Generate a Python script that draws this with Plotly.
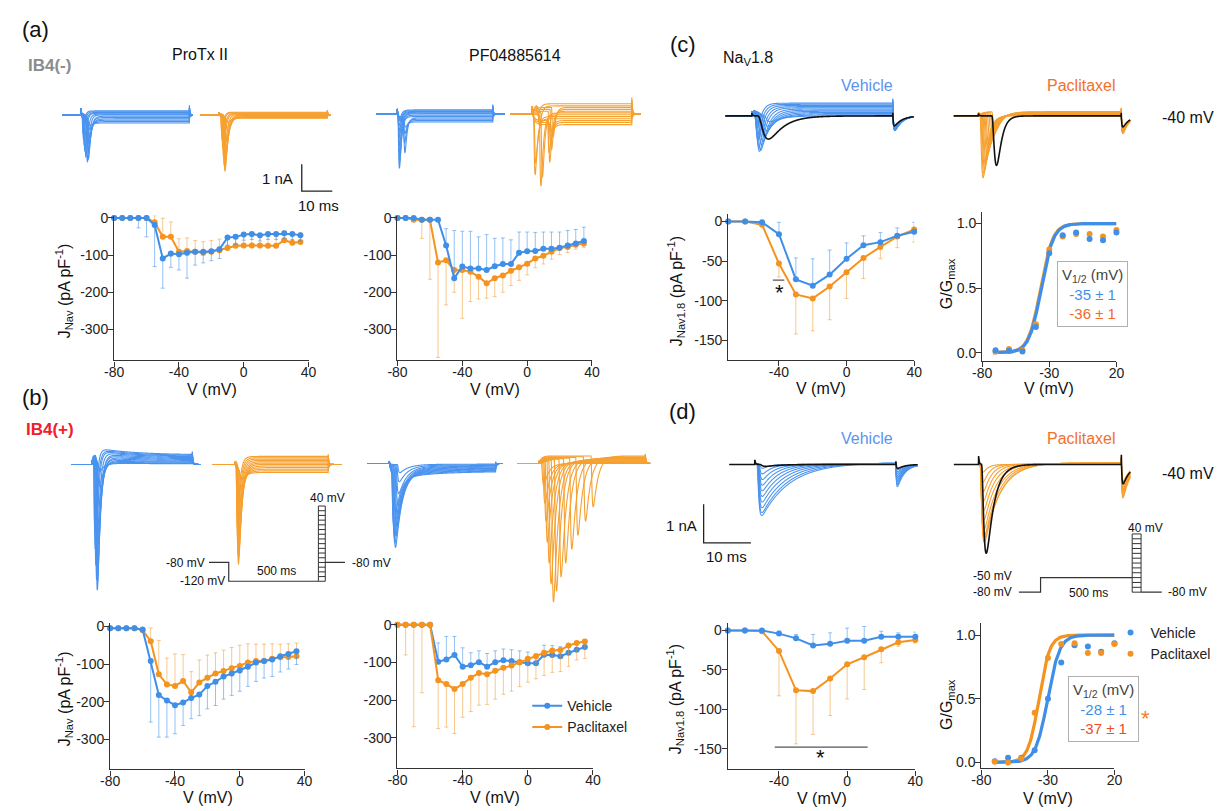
import numpy as np
import plotly.graph_objects as go

W, H = 1220, 811
FONT = "Liberation Sans, Arial, Helvetica, sans-serif"
BLUE = "#3f8fe9"
ORANGE = "#f4931f"
BLUE_T = "#4a93ef"
ORANGE_T = "#f6a030"
BLUE_ERR = "rgba(63,143,233,0.55)"
ORANGE_ERR = "rgba(244,147,31,0.5)"
AXC = "#333333"

# ---------------- data: current-voltage relations ----------------
V_ab = [-80, -75, -70, -65, -60, -55, -50, -45, -40, -35, -30, -25,
        -20, -15, -10, -5, 0, 5, 10, 15, 20, 25, 30, 35]
ab_yticks = [0, -100, -200, -300]
ab_xticks = [-80, -40, 0, 40]

# (a) IB4(-), ProTx II
a1_veh = [0, 0, 0, 0, 0, -19, -109, -96, -98, -94, -91, -91, -90, -84, -53, -51, -45, -43, -47, -43, -43, -41, -43, -47]
a1_veh_err = [0, 0, 0, 27, 51, 112, 80, 37, 42, 68, 36, 30, 25, 25, 20, 20, 15, 15, 15, 15, 15, 15, 15, 15]
a1_pac = [0, 0, 0, 0, 0, -12, -51, -51, -91, -89, -91, -94, -91, -87, -81, -75, -74, -74, -74, -75, -75, -60, -67, -65]
a1_pac_err = [0, 0, 0, 0, 0, 18, 50, 40, 35, 35, 30, 30, 30, 30, 30, 30, 30, 25, 25, 25, 25, 25, 25, 25]
# (a) IB4(-), PF04885614
a2_veh = [0, 0, 0, -5, -5, -5, -74, -162, -131, -136, -136, -140, -130, -124, -124, -94, -90, -89, -83, -83, -80, -74, -69, -62]
a2_veh_err = [0, 0, 0, 0, 0, 0, 45, 128, 95, 100, 85, 95, 75, 70, 65, 56, 52, 50, 45, 45, 42, 40, 38, 37]
a2_pac = [0, 0, -5, -5, -5, -120, -114, -140, -140, -145, -158, -176, -162, -155, -142, -133, -123, -109, -102, -91, -81, -78, -72, -69]
a2_pac_err = [0, 0, 0, 50, 160, 255, 120, 60, 130, 80, 60, 40, 50, 45, 40, 35, 30, 25, 22, 20, 18, 15, 12, 10]
# (b) IB4(+), ProTx II
b1_veh = [-5, -5, -5, -5, -8, -92, -182, -197, -209, -202, -190, -181, -158, -147, -133, -125, -117, -107, -96, -92, -88, -79, -73, -66]
b1_veh_err = [0, 0, 0, 0, 5, 162, 112, 97, 76, 61, 55, 56, 61, 63, 60, 58, 55, 52, 50, 45, 45, 42, 40, 35]
b1_pac = [-5, -5, -5, -5, -10, -39, -127, -154, -158, -145, -175, -149, -136, -125, -118, -111, -105, -96, -92, -92, -86, -82, -81, -79]
b1_pac_err = [0, 0, 0, 0, 0, 35, 90, 70, 85, 70, 55, 60, 60, 55, 55, 55, 55, 50, 45, 45, 40, 35, 35, 35]
# (b) IB4(+), PF04885614
b2_veh = [0, 0, 0, 0, 0, -98, -92, -80, -111, -107, -99, -111, -99, -94, -96, -99, -102, -102, -79, -80, -83, -74, -66, -59]
b2_veh_err = [0, 0, 0, 0, 0, 50, 61, 49, 50, 33, 30, 35, 30, 30, 30, 30, 30, 25, 25, 25, 25, 20, 20, 20]
b2_pac = [0, 0, 0, 0, 0, -147, -157, -170, -157, -140, -128, -131, -122, -114, -108, -99, -90, -83, -74, -68, -67, -55, -48, -44]
b2_pac_err = [0, 80, 270, 180, 0, 128, 114, 118, 88, 90, 85, 80, 75, 70, 68, 65, 62, 60, 60, 58, 57, 55, 45, 45]

# (c), (d) Nav1.8
V_cd = [-70, -60, -50, -40, -30, -20, -10, 0, 10, 20, 30, 40]
cd_yticks = [0, -50, -100, -150]
cd_xticks = [-40, 0, 40]
c_veh = [0, 0, -1, -16, -73, -81, -67, -47, -30, -26, -18, -13]
c_veh_err = [0, 0, 0, 15, 27, 34, 31, 20, 12, 12, 10, 12]
c_pac = [0, 0, -4, -53, -92, -97, -82, -64, -46, -32, -19, -10]
c_pac_err = [0, 0, 0, 17, 50, 41, 42, 33, 26, 15, 14, 16]
d_veh = [0, 0, 0, -4, -10, -19, -17, -13, -13, -8, -8, -8]
d_veh_err = [0, 0, 0, 3, 5, 14, 14, 16, 18, 7, 5, 6]
d_pac = [0, 0, -1, -26, -76, -77, -61, -43, -34, -24, -15, -12]
d_pac_err = [0, 0, 0, 57, 68, 55, 47, 44, 41, 17, 5, 4]

# conductance-voltage
V_g = [-70, -60, -50, -40, -30, -20, -10, 0, 10, 20]
g_xticks = [-80, -30, 20]
g_yticks = [0.0, 0.5, 1.0]
gc_veh = [0.02, 0.015, 0.01, 0.2, 0.77, 0.91, 0.93, 0.88, 0.87, 0.93]
gc_pac = [0.01, 0.03, 0.02, 0.22, 0.80, 0.90, 0.92, 0.92, 0.90, 0.95]
gd_veh = [0.01, 0.036, 0.036, 0.095, 0.50, 0.785, 0.92, 0.91, 0.87, 0.935]
gd_pac = [0.005, 0.0, 0.03, 0.39, 0.82, 0.93, 0.935, 0.86, 0.86, 0.93]
# Boltzmann fit curves as drawn: (V1/2, slope)
fit_c = {"veh": (-36.0, 4.5), "pac": (-36.5, 4.5)}
fit_d = {"veh": (-30.2, 4.5), "pac": (-36.8, 4.0)}
vhalf_c = ["-35 ± 1", "-36 ± 1"]
vhalf_d = ["-28 ± 1", "-37 ± 1"]
# significance bars: (V from, V to, J, star V, star J)
sig_c = (-43.6, -36.8, -74, -39.7, -89)
sig_d = (-42.5, 12.0, -148, -15.6, -161)

# ---------------- data: example current sweeps (nA, ms) ----------------
A1_veh_amp = [-0.1, -0.3, -0.6, -0.95, -1.3, -1.6, -1.75, -1.6, -1.4, -1.2, -1.0, -0.8]
A1_veh_lag = [2.4, 2.3, 2.2, 2.1, 2.0, 1.9, 1.6, 1.1, 0.8, 0.6, 0.4, 0.3]
A1_veh_dec = [0.9, 0.9, 0.8, 0.8, 0.7, 0.7, 0.6, 0.6, 0.5, 0.5, 0.45, 0.4]
A1_veh_plat = [-0.3, -0.25, -0.2, -0.15, -0.1, -0.05, 0.0, 0.03, 0.06, 0.09, 0.12, 0.15]
A1_pac_amp = [-0.15, -0.4, -0.8, -1.2, -1.6, -1.9, -2.1, -1.9, -1.6, -1.3, -1.0, -0.7]
A1_pac_lag = [2.2, 2.0, 1.9, 1.8, 1.6, 1.5, 1.4, 1.2, 1.0, 0.8, 0.6, 0.5]
A1_pac_dec = [1.2, 1.1, 1.0, 1.0, 0.9, 0.9, 0.8, 0.7, 0.6, 0.6, 0.5, 0.5]
A1_pac_plat = [-0.12, -0.1, -0.08, -0.06, -0.04, -0.02, 0.0, 0.02, 0.04, 0.06, 0.08, 0.1]

A2_veh_amp = [-0.2, -0.5, -0.9, -1.3, -1.7, -2.0, -1.5, -1.2, -0.9, -0.7, -0.5, -0.35]
A2_veh_lag = [2.2, 2.0, 1.9, 2.0, 0.3, 0.2, 0.3, 0.25, 0.2, 0.2, 0.15, 0.15]
A2_veh_dec = [0.6] * 12
A2_veh_plat = [-0.3, -0.25, -0.2, -0.15, -0.1, -0.05, 0.0, 0.03, 0.06, 0.09, 0.12, 0.15]
A2_pac_amp = [-0.3, -0.7, -1.2, -1.7, -2.2, -2.67, -2.4, -1.9, -1.5, -1.1, -0.7, -0.4]
A2_pac_lag = [6.0, 5.5, 5.0, 0.6, 0.4, 2.3, 2.8, 5.2, 5.8, 6.3, 1.8, 1.3]
A2_pac_dec = [0.7] * 12
A2_pac_plat = [-0.4, -0.32, -0.25, -0.18, -0.1, -0.03, 0.04, 0.1, 0.17, 0.24, 0.3, 0.38]

B1_veh_amp = [-0.3, -0.9, -1.6, -2.4, -3.2, -4.0, -4.7, -5.07, -4.7, -4.2, -3.6, -3.0]
B1_veh_lag = [1.9, 1.8, 1.7, 1.6, 1.5, 1.4, 1.3, 1.2, 1.0, 0.8, 0.6, 0.5]
B1_veh_dec = [1.4, 1.3, 1.2, 1.1, 1.0, 1.0, 0.9, 0.9, 0.8, 0.7, 0.7, 0.6]
B1_veh_plat = [0.05, 0.1, 0.15, 0.2, 0.26, 0.32, 0.38, 0.44, 0.5, 0.55, 0.6, 0.65]
B1_pac_amp = [-0.3, -0.7, -1.2, -1.8, -2.4, -3.0, -3.5, -3.8, -3.5, -3.1, -2.6, -2.1]
B1_pac_lag = [1.5, 1.4, 1.2, 1.0, 0.9, 0.8, 0.7, 0.6, 0.5, 0.45, 0.4, 0.35]
B1_pac_dec = [1.3, 1.25, 1.2, 1.15, 1.1, 1.05, 1.0, 0.95, 0.9, 0.85, 0.8, 0.75]
B1_pac_plat = [-0.3, -0.24, -0.18, -0.12, -0.06, 0.0, 0.05, 0.1, 0.15, 0.2, 0.25, 0.3]

B2_veh_amp = [-0.3, -0.6, -1.0, -1.35, -1.7, -2.05, -2.4, -2.8, -2.6, -2.35, -2.1, -1.8]
B2_veh_lag = [2.6, 2.4, 2.2, 2.0, 1.8, 1.6, 1.4, 1.2, 1.0, 0.9, 0.8, 0.7]
B2_veh_dec = [2.8, 2.7, 2.6, 2.5, 2.4, 2.3, 2.2, 2.1, 2.0, 1.9, 1.8, 1.7]
B2_veh_plat = [-0.05, -0.1, -0.15, -0.2, -0.25, -0.3, -0.35, -0.4, -0.45, -0.5, -0.55, -0.6]
B2_pac_amp = [-0.8, -1.5, -2.2, -3.0, -3.8, -4.6, -5.3, -4.9, -4.4, -3.9, -3.4, -2.9, -2.4, -1.9]
B2_pac_lag = [0.8, 1.2, 1.6, 2.0, 2.6, 3.2, 4.0, 5.0, 6.5, 8.0, 10.0, 12.0, 14.5, 17.0]
B2_pac_dec = [1.6] * 14
B2_pac_plat = [0.0, 0.02, 0.04, 0.06, 0.08, 0.1, 0.12, 0.14, 0.16, 0.18, 0.2, 0.22, 0.25, 0.28]

C_veh_amp = [-0.15, -0.3, -0.45, -0.6, -0.75, -0.9, -1.05, -1.1, -1.0, -0.85, -0.7, -0.55]
C_veh_lag = [2.6, 2.2, 1.9, 1.6, 1.3, 1.1, 0.9, 0.7, 0.6, 0.5, 0.45, 0.4]
C_veh_dec = [2.6, 2.4, 2.2, 2.0, 1.8, 1.6, 1.4, 1.2, 1.1, 1.0, 0.9, 0.8]
C_veh_plat = [0.0, 0.03, 0.06, 0.09, 0.12, 0.15, 0.18, 0.21, 0.24, 0.27, 0.3, 0.33]
C_veh_tail = [-0.45, -0.48, -0.5, -0.52, -0.55, -0.57, -0.6, -0.6, -0.6, -0.6, -0.6, -0.6]
C_veh_black = dict(amp=[-0.6], lag=[1.2], dec=[3.0], plat=[0.0], tail=[-0.35])
C_pac_amp = [-1.6, -1.5, -1.4, -1.3, -1.2, -1.1, -1.0, -0.9, -0.8, -0.7, -0.6, -0.5]
C_pac_lag = [0.3, 0.45, 0.6, 0.75, 0.9, 1.1, 1.3, 1.5, 1.8, 2.1, 2.4, 2.8]
C_pac_dec = [0.9, 0.95, 1.0, 1.05, 1.1, 1.15, 1.2, 1.25, 1.3, 1.35, 1.4, 1.45]
C_pac_plat = [0.0, 0.01, 0.02, 0.03, 0.04, 0.05, 0.06, 0.07, 0.08, 0.09, 0.1, 0.11]
C_pac_tail = [-0.5, -0.52, -0.54, -0.56, -0.58, -0.6, -0.62, -0.64, -0.66, -0.68, -0.7, -0.7]
C_pac_black = dict(amp=[-1.28], lag=[2.8], dec=[0.9], plat=[0.0], tail=[-0.4])

D_veh_amp = [-0.1, -0.25, -0.4, -0.55, -0.7, -0.85, -1.0, -1.15, -1.28, -1.36]
D_veh_lag = [0.9, 0.8, 0.75, 0.7, 0.65, 0.6, 0.55, 0.5, 0.45, 0.4]
D_veh_dec = [1.5, 2.0, 2.5, 3.0, 3.5, 4.0, 4.5, 5.0, 5.5, 6.0]
D_veh_plat = [0.0, 0.005, 0.01, 0.015, 0.02, 0.025, 0.03, 0.035, 0.04, 0.045]
D_veh_tail = [-0.2, -0.27, -0.33, -0.4, -0.47, -0.53, -0.6, -0.67, -0.73, -0.8]
D_veh_black = dict(amp=[-0.05], lag=[1.0], dec=[3.0], plat=[0.0], tail=[-0.15])
D_pac_amp = [-0.2, -0.45, -0.7, -0.95, -1.2, -1.45, -1.7, -1.9, -2.05, -1.95]
D_pac_lag = [0.3] * 10
D_pac_dec = [1.0, 1.3, 1.6, 1.9, 2.2, 2.5, 2.8, 3.0, 3.2, 3.4]
D_pac_plat = [0.0, 0.005, 0.01, 0.015, 0.02, 0.025, 0.03, 0.035, 0.04, 0.045]
D_pac_tail = [-0.6, -0.67, -0.73, -0.8, -0.87, -0.93, -1.0, -1.07, -1.13, -1.2]
D_pac_black = dict(amp=[-2.3], lag=[0.6], dec=[1.6], plat=[0.0], tail=[-0.7])

# voltage protocols (mV) and schematic segment lengths
proto_b_levels = (-80, -120, list(range(-120, 41, 10)))
proto_b_segs = (20, 91, 7, 20)
proto_d_levels = (-80, -50, list(range(-80, 41, 10)))
proto_d_segs = (22, 93, 9, 21)

# ---------------- helpers ----------------
fig = go.Figure()
axes_layout = {}
annotations = []
shapes = []
_n = [0]


def add_axes(x0, x1, ytop, ybot, xr, yr, show=False, xt=None, yt=None, yfmt=None):
    _n[0] += 1
    i = _n[0]
    xn = "xaxis" if i == 1 else f"xaxis{i}"
    yn = "yaxis" if i == 1 else f"yaxis{i}"
    xr_ = "x" if i == 1 else f"x{i}"
    yr_ = "y" if i == 1 else f"y{i}"
    common = dict(showgrid=False, zeroline=False, fixedrange=True)
    if show:
        st = dict(showline=True, linecolor=AXC, linewidth=1.3, ticks="outside", ticklen=5,
                  tickwidth=1.3, tickcolor=AXC, tickfont=dict(size=14, color="#222", family=FONT))
    else:
        st = dict(visible=False)
    xa = dict(domain=[x0 / W, x1 / W], range=xr, anchor=yr_, **common, **st)
    ya = dict(domain=[1 - ybot / H, 1 - ytop / H], range=yr, anchor=xr_, **common, **st)
    if show:
        xa["ticklabelstandoff"] = -6
        ya["ticklabelstandoff"] = -3
    if xt is not None:
        xa.update(tickmode="array", tickvals=xt, ticktext=[str(v) for v in xt])
    if yt is not None:
        fmt = yfmt or (lambda v: str(v))
        ya.update(tickmode="array", tickvals=yt, ticktext=[fmt(v) for v in yt])
    axes_layout[xn] = xa
    axes_layout[yn] = ya
    return xr_, yr_


def txt(x, y, s, size=16, color="#111", xanchor="center", angle=0, bold=False, **kw):
    if bold:
        s = f"<b>{s}</b>"
    annotations.append(dict(x=x / W, y=1 - y / H, xref="paper", yref="paper", text=s,
                            showarrow=False, xanchor=xanchor, yanchor="middle", textangle=angle,
                            font=dict(size=size, color=color, family=FONT), **kw))


def iv_series(ax, V, J, err, direction, color, ecolor, name=None, legend=None):
    up = err if direction == "up" else [0] * len(err)
    dn = err if direction == "down" else [0] * len(err)
    kw = {}
    if legend:
        kw["legend"] = legend
    fig.add_trace(go.Scatter(
        x=V, y=J, mode="lines+markers", line=dict(color=color, width=2),
        marker=dict(size=6, color=color),
        error_y=dict(type="data", symmetric=False, array=up, arrayminus=dn,
                     color=ecolor, thickness=1, width=2),
        xaxis=ax[0], yaxis=ax[1], cliponaxis=False, name=name or "",
        showlegend=name is not None, hoverinfo="skip", **kw))


def sweep_family(on, pre, dur, post, amp, lag, dec, plat, tail=None, rise=0.25,
                 ttail=1.0, cap=0.0, sag=0.0, dt=0.03):
    """Family of Na+ current sweeps: peak amplitude, latency, decay, steady level, tail per sweep."""
    t = np.arange(on - pre, on + dur + post + dt / 2, dt)
    s = t - on
    u = s - dur
    ss = np.clip(s, 0, None)
    uu = np.clip(u, 0, None)
    if tail is None:
        tail = [0.0] * len(amp)
    xs, ys = [], []
    for a, l, d, p, tl in zip(amp, lag, dec, plat, tail):
        sp = np.clip(s - l, 0, None)
        smax = rise * np.log(1 + 3 * d / rise)
        kmax = (1 - np.exp(-smax / rise)) ** 3 * np.exp(-smax / d)
        ina = a * (1 - np.exp(-sp / rise)) ** 3 * np.exp(-sp / d) / kmax
        ina = ina * np.exp(-uu / 0.1)
        pshape = p * (1 - np.exp(-ss / 0.8)) * (1 - sag * (1 - np.exp(-ss / 12)))
        pend = p * (1 - np.exp(-dur / 0.8)) * (1 - sag * (1 - np.exp(-dur / 12)))
        pl = np.where(s <= 0, 0, np.where(u <= 0, pshape, pend * np.exp(-uu / 0.3)))
        tl_ = np.where(u > 0, tl * (1 - np.exp(-uu / 0.12)) * np.exp(-uu / ttail), 0)
        cp = np.where(s > 0, cap * np.exp(-ss / 0.15), 0) + np.where(u > 0, cap * np.exp(-uu / 0.15), 0)
        y = ina + pl + tl_ + cp
        xs.extend(np.round(t, 3).tolist())
        xs.append(None)
        ys.extend(np.round(y, 4).tolist())
        ys.append(None)
    return xs, ys


def add_lines(ax, xs, ys, color, width=1.1):
    fig.add_trace(go.Scatter(x=xs, y=ys, mode="lines", line=dict(color=color, width=width, simplify=False),
                             hoverinfo="skip", showlegend=False, xaxis=ax[0], yaxis=ax[1]))


def trace_panel(l, r, t, b, t0px, i0px, pxms, pxna):
    xr = [(l - t0px) / pxms, (r - t0px) / pxms]
    yr = [(i0px - b) / pxna, (i0px - t) / pxna]
    return add_axes(l, r, t, b, xr, yr)


def glab(v):
    return f"{v:.1f}"


# ---------------- IV panels ----------------
axA1 = add_axes(105.7, 303, 211.7, 358, [-80, 40], [-383.3, 6.1], True, ab_xticks, ab_yticks)
axA2 = add_axes(393.3, 590.7, 211.7, 357.7, [-80, 40], [-382.5, 6.1], True, ab_xticks, ab_yticks)
axB1 = add_axes(101.7, 299, 623.3, 771, [-80, 40], [-379.7, 8.8], True, ab_xticks, ab_yticks)
axB2 = add_axes(393.3, 591.7, 622.7, 770, [-80, 40], [-380.6, 6.0], True, ab_xticks, ab_yticks)
axC = add_axes(729, 917.7, 210, 357.7, [-70, 40], [-175, 9.6], True, cd_xticks, cd_yticks)
axD = add_axes(728.6, 918.9, 623.3, 771, [-70, 40], [-176.4, 9.3], True, cd_xticks, cd_yticks)
axGC = add_axes(986.7, 1123, 208, 358.3, [-80, 20], [-0.062, 1.09], True, g_xticks, g_yticks, glab)
axGD = add_axes(986, 1121, 623, 770, [-80, 20], [-0.047, 1.096], True, g_xticks, g_yticks, glab)

iv_series(axA1, V_ab, a1_pac, a1_pac_err, "up", ORANGE, ORANGE_ERR)
iv_series(axA1, V_ab, a1_veh, a1_veh_err, "down", BLUE, BLUE_ERR)
iv_series(axA2, V_ab, a2_pac, a2_pac_err, "down", ORANGE, ORANGE_ERR)
iv_series(axA2, V_ab, a2_veh, a2_veh_err, "up", BLUE, BLUE_ERR)
iv_series(axB1, V_ab, b1_pac, b1_pac_err, "up", ORANGE, ORANGE_ERR)
iv_series(axB1, V_ab, b1_veh, b1_veh_err, "down", BLUE, BLUE_ERR)
iv_series(axB2, V_ab, b2_veh, b2_veh_err, "up", BLUE, BLUE_ERR, name="Vehicle", legend="legend")
iv_series(axB2, V_ab, b2_pac, b2_pac_err, "down", ORANGE, ORANGE_ERR, name="Paclitaxel", legend="legend")
iv_series(axC, V_cd, c_pac, c_pac_err, "down", ORANGE, ORANGE_ERR)
iv_series(axC, V_cd, c_veh, c_veh_err, "up", BLUE, BLUE_ERR)
iv_series(axD, V_cd, d_pac, d_pac_err, "down", ORANGE, ORANGE_ERR)
iv_series(axD, V_cd, d_veh, d_veh_err, "up", BLUE, BLUE_ERR)

for ax, sg in ((axC, sig_c), (axD, sig_d)):
    shapes.append(dict(type="line", xref=ax[0], yref=ax[1], x0=sg[0], x1=sg[1], y0=sg[2], y1=sg[2],
                       line=dict(color="#555", width=1.2)))
    annotations.append(dict(x=sg[3], y=sg[4], xref=ax[0], yref=ax[1], text="*", showarrow=False,
                            font=dict(size=22, color="#111", family=FONT), yanchor="middle"))

Vfit_c = np.linspace(-72, 20, 200)
Vfit_d = np.linspace(-70, 20, 200)
for ax, Vf, fits in ((axGC, Vfit_c, fit_c), (axGD, Vfit_d, fit_d)):
    for key, col in (("pac", ORANGE), ("veh", BLUE)):
        vh, k = fits[key]
        g = 1 / (1 + np.exp((vh - Vf) / k))
        fig.add_trace(go.Scatter(x=Vf, y=g, mode="lines", line=dict(color=col, width=3.2),
                                 hoverinfo="skip", showlegend=False, xaxis=ax[0], yaxis=ax[1]))
fig.add_trace(go.Scatter(x=V_g, y=gc_pac, mode="markers", marker=dict(size=6, color=ORANGE),
                         showlegend=False, xaxis=axGC[0], yaxis=axGC[1], cliponaxis=False, hoverinfo="skip"))
fig.add_trace(go.Scatter(x=V_g, y=gc_veh, mode="markers", marker=dict(size=6, color=BLUE),
                         showlegend=False, xaxis=axGC[0], yaxis=axGC[1], cliponaxis=False, hoverinfo="skip"))
fig.add_trace(go.Scatter(x=V_g, y=gd_veh, mode="markers", marker=dict(size=6, color=BLUE), name="Vehicle",
                         legend="legend2", xaxis=axGD[0], yaxis=axGD[1], cliponaxis=False, hoverinfo="skip"))
fig.add_trace(go.Scatter(x=V_g, y=gd_pac, mode="markers", marker=dict(size=6, color=ORANGE), name="Paclitaxel",
                         legend="legend2", xaxis=axGD[0], yaxis=axGD[1], cliponaxis=False, hoverinfo="skip"))

# ---------------- current sweeps ----------------
tA1 = trace_panel(40, 340, 88, 205, 72, 110, 3.1, 27)
add_lines(tA1, *sweep_family(0, 6.0, 35.5, 1.2, A1_veh_amp, A1_veh_lag, A1_veh_dec, A1_veh_plat, cap=0.25), BLUE_T)
add_lines(tA1, *sweep_family(45.16, 6.0, 35.5, 1.2, A1_pac_amp, A1_pac_lag, A1_pac_dec, A1_pac_plat, cap=0.1), ORANGE_T)
add_lines(tA1, [72.3, 72.3, 82.3], [-1.85, -2.85, -2.85], "#222", 1.3)   # 1 nA / 10 ms bar

tA2 = trace_panel(355, 655, 88, 205, 393, 109, 3.1, 27)
add_lines(tA2, *sweep_family(0, 6.8, 31.3, 3.9, A2_veh_amp, A2_veh_lag, A2_veh_dec, A2_veh_plat, cap=0.2), BLUE_T)
add_lines(tA2, *sweep_family(44.2, 7.1, 32.6, 2.9, A2_pac_amp, A2_pac_lag, A2_pac_dec, A2_pac_plat, cap=0.3), ORANGE_T)

tB1 = trace_panel(45, 345, 435, 612, 83, 463, 3.1, 27)
add_lines(tB1, *sweep_family(0, 6.8, 32.9, 2.6, B1_veh_amp, B1_veh_lag, B1_veh_dec, B1_veh_plat, sag=0.45, cap=0.15), BLUE_T)
add_lines(tB1, *sweep_family(46.8, 7.4, 30.6, 4.5, B1_pac_amp, B1_pac_lag, B1_pac_dec, B1_pac_plat, cap=0.1), ORANGE_T)

tB2 = trace_panel(350, 660, 435, 612, 385, 462, 3.1, 27)
add_lines(tB2, *sweep_family(0, 7.1, 34.8, 2.3, B2_veh_amp, B2_veh_lag, B2_veh_dec, B2_veh_plat, sag=0.5, cap=0.1), BLUE_T)
add_lines(tB2, *sweep_family(49.0, 7.1, 34.8, 1.6, B2_pac_amp, B2_pac_lag, B2_pac_dec, B2_pac_plat, cap=0.1), ORANGE_T)

tC = trace_panel(660, 1150, 60, 185, 753, 111, 4.8, 39)
add_lines(tC, *sweep_family(0, 5.6, 29.8, 4.4, C_veh_amp, C_veh_lag, C_veh_dec, C_veh_plat, C_veh_tail, rise=0.4, ttail=1.4, cap=0.12), BLUE_T)
add_lines(tC, *sweep_family(0, 5.6, 29.8, 4.4, rise=1.0, ttail=1.6, cap=0.08, **C_veh_black), "#111", 1.6)
add_lines(tC, *sweep_family(47.9, 5.2, 30.2, 1.9, C_pac_amp, C_pac_lag, C_pac_dec, C_pac_plat, C_pac_tail, rise=0.3, ttail=1.2, cap=0.1), ORANGE_T)
add_lines(tC, *sweep_family(47.9, 5.2, 30.2, 1.9, rise=0.6, ttail=1.4, cap=0.08, **C_pac_black), "#111", 1.6)

tD = trace_panel(660, 1150, 420, 570, 756, 463, 4.8, 39)
add_lines(tD, *sweep_family(0, 5.4, 29.8, 4.6, D_veh_amp, D_veh_lag, D_veh_dec, D_veh_plat, D_veh_tail, rise=0.25, ttail=1.5, cap=0.1), BLUE_T)
add_lines(tD, *sweep_family(0, 5.4, 29.8, 4.6, rise=0.4, ttail=1.5, cap=0.12, **D_veh_black), "#111", 1.6)
add_lines(tD, *sweep_family(47.3, 5.2, 30.2, 1.9, D_pac_amp, D_pac_lag, D_pac_dec, D_pac_plat, D_pac_tail, rise=0.25, ttail=1.5, cap=0.15), ORANGE_T)
add_lines(tD, *sweep_family(47.3, 5.2, 30.2, 1.9, rise=0.4, ttail=1.5, cap=0.25, **D_pac_black), "#111", 1.6)
add_lines(tD, [-10.83, -10.83, -0.83], [-1.03, -2.03, -2.03], "#222", 1.3)   # 1 nA / 10 ms bar


# ---------------- voltage protocols ----------------
def protocol(ax, levels, segs):
    hold, cond, ladder = levels
    s1, s2, s3, s4 = segs
    x_a = s1
    x_b = s1 + s2
    x_c = s1 + s2 + s3
    add_lines(ax, [0, x_a, x_a, x_b], [hold, hold, cond, cond], "#333", 1.2)
    xs, ys = [x_b, x_b, None, x_c, x_c, None], [min(ladder), max(ladder), None, min(ladder), max(ladder), None]
    for L in ladder:
        xs += [x_b, x_c, None]
        ys += [L, L, None]
    add_lines(ax, xs, ys, "#333", 1.0)
    add_lines(ax, [x_c, x_c + s4], [hold, hold], "#333", 1.2)


pB = add_axes(150, 400, 490, 600, [150 - 202, 400 - 202], [-120 - (600 - 581) / 0.475, -120 + (581 - 490) / 0.475])
protocol(pB, proto_b_levels, proto_b_segs)
pD = add_axes(1000, 1200, 515, 600, [1000 - 1024, 1200 - 1024], [-80 - (600 - 592) / 0.49, -80 + (592 - 515) / 0.49])
protocol(pD, proto_d_levels, proto_d_segs)

# ---------------- text ----------------
txt(26, 24, "(a)", size=22)
txt(40, 60, "IB4(-)", size=17, color="#8c8c8c", bold=True)
txt(193, 49, "ProTx II", size=16)
txt(513, 50, "PF04885614", size=16)
txt(26, 395, "(b)", size=22)
txt(41, 428, "IB4(+)", size=17, color="#f0202a", bold=True)
txt(683, 39, "(c)", size=22)
txt(749, 53, "Na<sub>V</sub>1.8", size=16)
txt(683, 410, "(d)", size=22)

txt(289, 174, "1 nA", size=15, xanchor="right")
txt(313, 201, "10 ms", size=15)
txt(699, 525, "1 nA", size=15, xanchor="right")
txt(727, 556, "10 ms", size=15)

txt(870, 80, "Vehicle", size=16, color="#5d93ef")
txt(1087, 80, "Paclitaxel", size=16, color="#f4702c")
txt(1167, 113, "-40 mV", size=16, xanchor="left")
txt(870, 437, "Vehicle", size=16, color="#5d93ef")
txt(1087, 437, "Paclitaxel", size=16, color="#f4702c")
txt(1167, 472, "-40 mV", size=16, xanchor="left")

txt(200, 563, "-80 mV", size=12, xanchor="right")
txt(220, 581, "-120 mV", size=12, xanchor="right")
txt(270, 571, "500 ms", size=12)
txt(322, 497, "40 mV", size=12)
txt(345, 563, "-80 mV", size=12, xanchor="left")
txt(1019, 576, "-50 mV", size=12, xanchor="right")
txt(1019, 592, "-80 mV", size=12, xanchor="right")
txt(1095, 593, "500 ms", size=12)
txt(1152, 527, "40 mV", size=12)
txt(1173, 592, "-80 mV", size=12, xanchor="left")

JNAV = "J<sub>Nav</sub> (pA pF<sup>-1</sup>)"
JNAV18 = "J<sub>Nav1.8</sub> (pA pF<sup>-1</sup>)"
GG = "G/G<sub>max</sub>"
txt(55, 288, JNAV, size=16, angle=-90)
txt(55, 700, JNAV, size=16, angle=-90)
txt(676, 288, JNAV18, size=16, angle=-90)
txt(675, 700, JNAV18, size=16, angle=-90)
txt(951, 280, GG, size=16, angle=-90)
txt(951, 705, GG, size=16, angle=-90)
for xc, yc in ((205, 387), (492, 387), (201, 799), (492, 799), (823, 386), (1055, 386), (824, 800), (1054, 800)):
    txt(xc, yc, "V (mV)", size=16)

for (xc, yc), vals, cols in (((1099, 291), vhalf_c, ("#3f8fe9", "#f26a2a")),
                             ((1110, 710), vhalf_d, ("#3f8fe9", "#ef4b2b"))):
    s = (f"V<sub>1/2</sub> (mV)<br><span style='color:{cols[0]}'>{vals[0]}</span>"
         f"<br><span style='color:{cols[1]}'>{vals[1]}</span>")
    annotations.append(dict(x=xc / W, y=1 - yc / H, xref="paper", yref="paper", text=s, showarrow=False,
                            xanchor="center", yanchor="middle", align="center",
                            font=dict(size=15, color="#444", family=FONT),
                            bordercolor="#b0b0b0", borderwidth=1, borderpad=4, bgcolor="white"))
txt(1153, 720, "*", size=22, color="#f08030")

fig.update_layout(
    width=W, height=H, margin=dict(l=0, r=0, t=0, b=0),
    paper_bgcolor="white", plot_bgcolor="rgba(0,0,0,0)", hovermode=False,
    font=dict(family=FONT, size=14, color="#222"),
    annotations=annotations, shapes=shapes,
    legend=dict(x=525 / W, y=1 - 691 / H, xanchor="left", yanchor="top", bgcolor="rgba(0,0,0,0)",
                font=dict(size=14, family=FONT, color="#222"), itemwidth=30, tracegroupgap=0,
                traceorder="normal"),
    legend2=dict(x=1117 / W, y=1 - 617 / H, xanchor="left", yanchor="top", bgcolor="rgba(0,0,0,0)",
                 font=dict(size=14, family=FONT, color="#222"), itemwidth=30, tracegroupgap=0,
                 traceorder="normal"),
    **axes_layout,
)

fig.write_html("out.html")
